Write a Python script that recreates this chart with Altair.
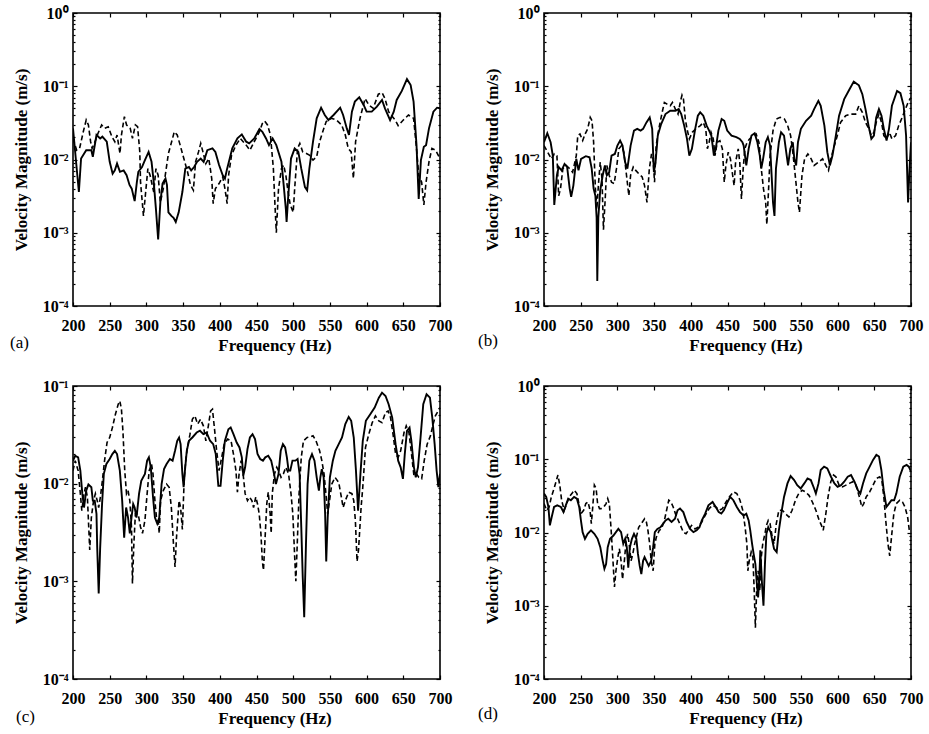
import altair as alt
import pandas as pd

FONT = "Liberation Serif"

# ---------------- data ----------------
X_TICKS = [200, 250, 300, 350, 400, 450, 500, 550, 600, 650, 700]
Y_MAJOR_4 = [1e-4, 1e-3, 1e-2, 1e-1, 1.0]
Y_MAJOR_3 = [1e-4, 1e-3, 1e-2, 1e-1]
Y_MINOR_4 = [k * d for d in [1e-4, 1e-3, 1e-2, 1e-1] for k in range(2, 10)]
Y_MINOR_3 = [k * d for d in [1e-4, 1e-3, 1e-2] for k in range(2, 10)]

# panel (a)
A_SOL_F = [200, 208, 211, 218, 225, 227, 232, 237, 240, 246, 250, 254, 257, 260, 264, 269, 273, 277, 280, 284, 287, 289,
           294, 298, 303, 307, 310, 313, 316, 319, 322, 326, 328, 330, 334, 337, 340, 344, 349, 353, 358, 361, 365, 369,
           374, 378, 383, 390, 394, 399, 404, 407, 410, 417, 424, 430, 436, 440, 447, 454, 458, 463, 467, 472, 477, 484,
           487, 490, 491, 493, 497, 502, 507, 511, 516, 519, 522, 527, 532, 538, 543, 548, 555, 564, 568, 573, 576, 580,
           584, 590, 596, 600, 607, 614, 621, 625, 632, 637, 641, 648, 655, 660, 664, 668, 671, 674, 678, 681, 685, 691,
           696, 700]
A_SOL_V = [0.0266, 0.0036, 0.0103, 0.0134, 0.0134, 0.0109, 0.0216, 0.0194, 0.0205, 0.0175, 0.0093, 0.0064, 0.0071,
           0.0088, 0.0068, 0.0071, 0.0061, 0.0045, 0.0040, 0.0027, 0.0049, 0.0068, 0.0079, 0.0098, 0.0127, 0.0093,
           0.0049, 0.0021, 0.00081, 0.0026, 0.0047, 0.0055, 0.0045, 0.0019, 0.0017, 0.0016, 0.0014, 0.0019, 0.0036,
           0.0075, 0.0079, 0.0071, 0.0079, 0.0093, 0.0103, 0.0093, 0.0134, 0.0142, 0.0127, 0.0084, 0.0061, 0.0055,
           0.0075, 0.0142, 0.0194, 0.022, 0.0175, 0.0166, 0.0194, 0.026, 0.0239, 0.0194, 0.0157, 0.0194, 0.0157,
           0.0093, 0.0045, 0.0021, 0.0014, 0.0029, 0.0103, 0.0142, 0.0127, 0.0075, 0.0042, 0.0038, 0.0075, 0.0175,
           0.0365, 0.051, 0.0405, 0.0346, 0.0405, 0.051, 0.0405, 0.0266, 0.0216, 0.045, 0.0617, 0.0707, 0.0555, 0.045,
           0.045, 0.0526, 0.065, 0.05, 0.0346, 0.045, 0.065, 0.0863, 0.125, 0.104, 0.0617, 0.0157, 0.0029, 0.0098,
           0.0149, 0.0157, 0.0266, 0.045, 0.051, 0.05]
A_DSH_F = [200, 202, 205, 209, 214, 218, 221, 224, 226, 230, 234, 239, 243, 248, 253, 257, 260, 264, 266, 270, 273, 278,
           281, 285, 288, 291, 292, 296, 299, 302, 305, 310, 313, 316, 319, 323, 327, 330, 335, 338, 342, 346, 351, 356,
           360, 364, 367, 371, 374, 377, 381, 385, 389, 391, 394, 399, 404, 407, 410, 412, 416, 422, 428, 436, 441, 447,
           454, 458, 461, 465, 469, 473, 475, 477, 480, 484, 487, 490, 493, 496, 500, 502, 506, 509, 513, 518, 522, 527,
           532, 536, 541, 545, 552, 559, 566, 571, 575, 579, 582, 585, 591, 598, 603, 609, 616, 621, 625, 630, 635, 639,
           643, 650, 657, 664, 668, 671, 675, 678, 681, 685, 689, 694, 700]
A_DSH_V = [0.0194, 0.0166, 0.0134, 0.0142, 0.0239, 0.0346, 0.0296, 0.0175, 0.0142, 0.0175, 0.0227, 0.0296, 0.0266,
           0.028, 0.0205, 0.0175, 0.0216, 0.0121, 0.0216, 0.0385, 0.0296, 0.0266, 0.0194, 0.0296, 0.028, 0.0127,
           0.0049, 0.0017, 0.0036, 0.0075, 0.0061, 0.0036, 0.0075, 0.0061, 0.0026, 0.004, 0.0075, 0.0121, 0.0184,
           0.0239, 0.0216, 0.0157, 0.0103, 0.0068, 0.0045, 0.0038, 0.0093, 0.0127, 0.0166, 0.0127, 0.0088, 0.0103,
           0.0055, 0.0025, 0.004, 0.0047, 0.0058, 0.004, 0.0025, 0.0061, 0.0115, 0.0157, 0.0194, 0.0157, 0.0134,
           0.0175, 0.0239, 0.031, 0.0335, 0.0296, 0.0216, 0.0075, 0.0026, 0.001, 0.004, 0.0075, 0.0084, 0.0061,
           0.0036, 0.0024, 0.0019, 0.004, 0.0142, 0.0166, 0.0127, 0.0121, 0.0115, 0.0098, 0.0109, 0.0175, 0.0253,
           0.033, 0.0365, 0.0346, 0.0296, 0.0216, 0.0142, 0.0127, 0.0055, 0.0175, 0.0365, 0.068, 0.0555, 0.05, 0.078,
           0.082, 0.068, 0.045, 0.0385, 0.0346, 0.029, 0.0346, 0.0405, 0.0365, 0.0142, 0.0061, 0.0049, 0.0024,
           0.0049, 0.0093, 0.0142, 0.0134, 0.0103]

# panel (b)
B_SOL_F = [200, 204.5, 209, 212, 214, 217.6, 220, 224, 228, 231.5, 235, 237, 240, 244, 247, 250.5, 257, 262, 265, 267.6,
           270, 271.7, 272.6, 274, 276.6, 280, 283, 285.6, 288.8, 292, 296.5, 300, 303.7, 307, 310.5, 313.6, 318, 322.6,
           327, 331.6, 335, 339.6, 344, 347.4, 349.7, 352, 355, 359.6, 365.5, 372, 379, 383.5, 387, 391, 394.8, 398,
           401.5, 406, 409.6, 412.8, 417, 421.6, 425, 428, 431.5, 434, 437.6, 442, 445.6, 449.6, 455.5, 462, 466.7,
           470.3, 472, 475.6, 478.8, 482.7, 487, 490.7, 494, 496, 498.5, 502, 505, 508, 512, 514, 516, 520, 523, 527,
           530, 532.5, 535.6, 539, 541, 543.5, 546, 550, 557, 564, 568, 573.8, 577, 582, 586, 589.5, 593, 597.6, 602,
           609, 615.7, 622, 629, 633.7, 638, 642.6, 646, 649.5, 652.6, 656.3, 659.8, 663, 666.7, 670, 674, 681, 685.6,
           690, 693.3, 696, 698, 700]
B_SOL_V = [0.0172, 0.0228, 0.0172, 0.0113, 0.0024, 0.0061, 0.0079, 0.0071, 0.0087, 0.0079, 0.004, 0.0031, 0.0044,
           0.0102, 0.0071, 0.0102, 0.0111, 0.0107, 0.0075, 0.004, 0.0032, 0.0016, 0.00022, 0.0016, 0.0038, 0.0061,
           0.0083, 0.0061, 0.0067, 0.0113, 0.0119, 0.0155, 0.0181, 0.0155, 0.0092, 0.0075, 0.0155, 0.0248, 0.0262,
           0.0248, 0.0262, 0.0321, 0.0376, 0.0262, 0.0067, 0.0092, 0.0212, 0.0305, 0.0417, 0.0462, 0.0462, 0.0487,
           0.0417, 0.029, 0.0191, 0.0113, 0.014, 0.0262, 0.0396, 0.044, 0.0396, 0.029, 0.0248, 0.0212, 0.0113, 0.014,
           0.0248, 0.0357, 0.0338, 0.0248, 0.0212, 0.0202, 0.0191, 0.0172, 0.0155, 0.0083, 0.014, 0.0212, 0.0228,
           0.0172, 0.0113, 0.0075, 0.0102, 0.0172, 0.0202, 0.0155, 0.0026, 0.0017, 0.0075, 0.0172, 0.0235, 0.0212,
           0.0126, 0.0083, 0.014, 0.0172, 0.0102, 0.0083, 0.0172, 0.0262, 0.0338, 0.0396, 0.0487, 0.0632, 0.0541,
           0.029, 0.0126, 0.0083, 0.0113, 0.0212, 0.0396, 0.0667, 0.089, 0.1157, 0.103, 0.078, 0.0487, 0.0275, 0.0191,
           0.0212, 0.0376, 0.0487, 0.0396, 0.0262, 0.0181, 0.0262, 0.0541, 0.0864, 0.0804, 0.0541, 0.0212, 0.0026,
           0.0075, 0.0172]
B_DSH_F = [200, 205, 210, 214, 217.6, 220, 222.5, 225.7, 230, 235, 239, 244, 246, 249, 252.7, 256, 259.5, 263, 265.4,
           267.6, 270, 272, 274.4, 276.6, 279, 281, 283.4, 285.6, 288.8, 292, 295.6, 298.7, 302, 305.6, 308.8, 312.4,
           315.6, 318, 321.6, 325, 329, 333.7, 337, 340.3, 343.5, 346.5, 348.6, 350.6, 352.8, 356.4, 361, 364, 367.7,
           372, 375, 379, 382.6, 386, 388, 390, 392.5, 394.8, 398, 402, 407, 413, 417, 420.4, 422.6, 425, 427.6, 430.6,
           433, 436, 439.6, 443, 445.6, 447.8, 451, 454, 457, 459, 461, 464.6, 466.7, 469, 471.4, 473.6, 476.7, 480,
           485, 489, 492.8, 496, 499, 502, 503.6, 506, 508, 512, 516.5, 521.8, 527.6, 532, 536, 539, 542.7, 546, 548,
           551.5, 555, 559.5, 564, 568, 574, 579.6, 584, 587.6, 590.7, 595, 599.6, 604, 611, 617.8, 624.6, 629, 633.7,
           638, 642.7, 646, 649.5, 652.6, 656.3, 659.8, 663, 666.7, 670.6, 674, 679, 683.3, 688, 692.3, 697, 700]
B_DSH_V = [0.0155, 0.0126, 0.0102, 0.0119, 0.0113, 0.0032, 0.004, 0.0075, 0.0083, 0.0075, 0.0067, 0.0113, 0.0212,
           0.0223, 0.0181, 0.0223, 0.0262, 0.0376, 0.0338, 0.0172, 0.004, 0.0021, 0.0049, 0.0092, 0.0055, 0.0011,
           0.0029, 0.0083, 0.0061, 0.0049, 0.0047, 0.0075, 0.014, 0.0155, 0.0126, 0.0061, 0.0032, 0.0061, 0.0079,
           0.0071, 0.0064, 0.0058, 0.0044, 0.0026, 0.0075, 0.0119, 0.0102, 0.0049, 0.0155, 0.0262, 0.044, 0.06, 0.057,
           0.0541, 0.06, 0.0487, 0.0417, 0.0632, 0.0755, 0.0667, 0.0357, 0.0262, 0.0191, 0.0235, 0.0262, 0.029,
           0.0321, 0.0262, 0.014, 0.0172, 0.0235, 0.0191, 0.0113, 0.0172, 0.0181, 0.014, 0.0049, 0.0083, 0.0126,
           0.0102, 0.0061, 0.0044, 0.0092, 0.014, 0.0092, 0.0029, 0.0075, 0.014, 0.0172, 0.0191, 0.0212, 0.0223,
           0.0172, 0.0075, 0.004, 0.0026, 0.0013, 0.004, 0.0113, 0.0248, 0.0357, 0.0376, 0.0357, 0.029, 0.0212, 0.0126,
           0.0055, 0.0026, 0.0019, 0.0061, 0.0102, 0.0119, 0.0102, 0.0083, 0.0092, 0.0102, 0.0083, 0.0071, 0.0102,
           0.0147, 0.0212, 0.0321, 0.0396, 0.0417, 0.0417, 0.0541, 0.044, 0.0321, 0.0262, 0.0212, 0.0235, 0.0321,
           0.0417, 0.0321, 0.0212, 0.0191, 0.0235, 0.0191, 0.0212, 0.029, 0.0376, 0.0487, 0.0632, 0.07]

# panel (c)
C_SOL_F = [200, 203, 207, 210, 212.7, 215, 218, 221, 225, 227, 229.6, 232, 233, 235, 237, 239.6, 242, 245.5, 250, 253.6,
           257, 260, 263.8, 267, 269.7, 272.4, 275, 277.4, 279.7, 282, 284, 286.5, 290, 293, 298, 301, 303.4, 306, 309,
           311.6, 314.8, 317.5, 320.7, 324, 327.5, 332, 335.7, 339, 342, 344.5, 346.6, 349, 350.7, 352.5, 355, 358,
           362.6, 368.5, 373, 377.6, 382, 386.7, 391, 394.5, 398, 401, 404, 407, 411.7, 414.8, 418.6, 423, 426.8, 430,
           432, 434.5, 437.7, 441, 444.6, 448, 451.4, 455, 458.8, 462, 466, 470, 473, 476.5, 480, 483, 486, 489, 491.4,
           493.7, 496, 499, 503, 506, 508.7, 511, 513, 515, 517.4, 519.6, 522, 525.6, 529, 532, 535, 537, 539, 541.5,
           543.5, 545, 547, 550, 554, 557.5, 562, 566.5, 571, 575.6, 579, 582.5, 585.5, 588.4, 591.6, 594.8, 599, 605,
           611, 616.7, 621, 625.8, 630, 634.9, 639.5, 643, 646.4, 649.5, 652, 655, 658.5, 661, 664.5, 667, 670, 673.5,
           677.2, 681.7, 686.3, 689.5, 692.7, 695.4, 697.8, 700]
C_SOL_V = [0.0172, 0.0193, 0.0186, 0.0136, 0.0079, 0.0057, 0.0085, 0.0098, 0.0092, 0.0067, 0.0067, 0.0049, 0.0022,
           0.00075, 0.0022, 0.0062, 0.0126, 0.0159, 0.0179, 0.0201, 0.0217, 0.0201, 0.0136, 0.0067, 0.0028, 0.0057,
           0.0045, 0.0031, 0.0045, 0.0062, 0.0057, 0.0045, 0.0079, 0.0107, 0.0126, 0.0172, 0.0186, 0.0147, 0.0073,
           0.0045, 0.0039, 0.0045, 0.0099, 0.0141, 0.0159, 0.0179, 0.0172, 0.0217, 0.0275, 0.0297, 0.0254, 0.0126,
           0.0092, 0.0136, 0.0217, 0.0275, 0.0297, 0.0334, 0.0348, 0.0321, 0.0334, 0.0275, 0.0254, 0.0201, 0.0095,
           0.0095, 0.0172, 0.0275, 0.0361, 0.0376, 0.0321, 0.0264, 0.0235, 0.0186, 0.0121, 0.0147, 0.0226, 0.0297,
           0.0321, 0.0286, 0.0201, 0.0179, 0.0172, 0.0186, 0.0193, 0.0172, 0.0136, 0.0099, 0.0126, 0.0217, 0.0254,
           0.0235, 0.0186, 0.0136, 0.0136, 0.0172, 0.0172, 0.0179, 0.0126, 0.0036, 0.0011, 0.00043, 0.0024, 0.0099,
           0.0172, 0.0201, 0.0172, 0.0116, 0.0085, 0.0116, 0.0141, 0.0116, 0.0049, 0.0016, 0.0045, 0.0116, 0.0172,
           0.0217, 0.0254, 0.0297, 0.0407, 0.0483, 0.044, 0.0297, 0.0136, 0.0053, 0.0126, 0.0275, 0.044, 0.0514,
           0.0601, 0.076, 0.0855, 0.079, 0.065, 0.0475, 0.0254, 0.0172, 0.0147, 0.0112, 0.0201, 0.0348, 0.0376,
           0.0275, 0.0147, 0.0116, 0.0147, 0.0297, 0.065, 0.0822, 0.076, 0.0475, 0.0254, 0.0136, 0.0092, 0.0126]
C_DSH_F = [200, 203, 207, 210, 212, 215, 217, 219.6, 222.8, 225, 228, 230.5, 233, 235, 237.3, 240, 243, 246.4, 250,
           253.7, 257.8, 261.6, 263.8, 266, 268, 270.5, 272.9, 275, 277.4, 279.7, 281, 282.9, 285, 288.8, 292, 294.7,
           298, 301, 303.8, 307, 309, 311.6, 313.7, 316, 317.5, 319.3, 323, 327.5, 331, 334, 336.6, 339, 341, 344.5,
           346.6, 349, 351.6, 354, 356, 359.4, 362.6, 366, 369.8, 373.8, 377.6, 381, 384.4, 387.5, 390, 392.6, 395.7,
           399, 402.6, 406, 410.7, 415.3, 418.6, 422, 424, 426.3, 429, 432, 434.5, 437.7, 440.5, 443.7, 446, 449, 451.4,
           453.7, 456, 458, 459.5, 462, 464, 466, 468.6, 470, 471.5, 474.5, 477.6, 480, 483.4, 486.6, 490, 493.7, 497,
           499.5, 502, 503.6, 505.5, 508, 511, 514, 519, 523, 527, 531, 536, 539, 542, 545, 547, 549.5, 552.6, 557, 562,
           565.6, 568, 571, 575.6, 580, 582.5, 584.7, 587, 589, 592.5, 594.8, 598.5, 603, 607.7, 612, 616.7, 621,
           625.8, 629.3, 632.6, 636, 639.5, 643, 646.4, 651, 654, 657.7, 661.2, 664.5, 668, 671.2, 675, 678.5, 682.5,
           687, 690.7, 693.7, 697.5, 700]
C_DSH_V = [0.0136, 0.0172, 0.0136, 0.0079, 0.0053, 0.0079, 0.0092, 0.0073, 0.0021, 0.0045, 0.0067, 0.0079, 0.0067,
           0.0057, 0.0073, 0.0107, 0.0172, 0.0264, 0.0297, 0.0376, 0.0514, 0.065, 0.0703, 0.0578, 0.0348, 0.0136,
           0.0079, 0.0085, 0.0067, 0.0036, 0.00095, 0.0024, 0.0049, 0.0049, 0.0036, 0.0031, 0.0042, 0.0079, 0.0136,
           0.0159, 0.0126, 0.0067, 0.0045, 0.0042, 0.0031, 0.0067, 0.0085, 0.0099, 0.0092, 0.0057, 0.0026, 0.0014,
           0.0028, 0.0067, 0.0057, 0.0034, 0.0116, 0.0186, 0.0235, 0.0321, 0.0457, 0.0494, 0.0407, 0.0457, 0.0391,
           0.0275, 0.0391, 0.0556, 0.0578, 0.0376, 0.0217, 0.0136, 0.0186, 0.0254, 0.0286, 0.0275, 0.0201, 0.0136,
           0.0082, 0.0126, 0.0172, 0.0121, 0.0079, 0.0067, 0.0073, 0.0067, 0.0057, 0.0073, 0.0062, 0.0049, 0.0031,
           0.0016, 0.0013, 0.0031, 0.0062, 0.0082, 0.0049, 0.0031, 0.0079, 0.0126, 0.0147, 0.0136, 0.0116, 0.0126,
           0.0147, 0.0126, 0.0079, 0.0049, 0.0018, 0.001, 0.0024, 0.0079, 0.0186, 0.0275, 0.0297, 0.0302, 0.0309,
           0.0275, 0.0217, 0.0172, 0.0126, 0.0073, 0.0049, 0.0067, 0.0099, 0.0116, 0.0103, 0.0073, 0.0057, 0.0067,
           0.0082, 0.0079, 0.0067, 0.0042, 0.0016, 0.0021, 0.0057, 0.0092, 0.0235, 0.0321, 0.0422, 0.0494, 0.044,
           0.0422, 0.0535, 0.0556, 0.0475, 0.0321, 0.0201, 0.0186, 0.0217, 0.0334, 0.0391, 0.0334, 0.0201, 0.0121,
           0.0126, 0.0116, 0.0112, 0.0172, 0.0254, 0.0309, 0.0407, 0.0494, 0.0556, 0.0601]

# panel (d)
D_SOL_F = [200, 203, 206, 208, 210.5, 213.7, 218, 223, 226.5, 229.7, 233, 236.6, 241, 244.8, 248, 250.3, 252.6, 255.8,
           259.5, 264, 268.6, 273, 276.7, 280, 282.3, 284.6, 286.8, 290, 294.6, 298, 301.3, 305, 308, 310.6, 312.8,
           314.8, 317, 319.8, 322.6, 325.8, 328, 330.4, 332.6, 335, 337, 340.4, 342.6, 346, 348.7, 351, 354.5, 358.6,
           362.4, 365.6, 369.3, 373.8, 378.4, 382, 385.3, 389.8, 394.4, 399, 403.6, 408, 411.8, 415, 419.6, 424, 429.7,
           434, 438, 441.6, 445, 449, 453.7, 458, 462.7, 467, 472, 475.6, 478.8, 481, 483.5, 485.6, 488, 490, 491.7,
           493.4, 494.7, 497, 499, 501, 503, 505.5, 508.8, 511, 513.4, 517, 520, 524, 527, 531.7, 536, 540.8, 545,
           549.7, 554.6, 559, 563.5, 568, 570.4, 574, 577, 581.6, 586, 591, 595.7, 600, 604.7, 609, 613.8, 618.3, 623,
           627.7, 631, 634.6, 639, 643.7, 648.3, 652.8, 656.4, 659.6, 662.8, 666.5, 670, 673.4, 677, 680, 684.6, 689.5,
           694, 697, 700]
D_SOL_V = [0.034, 0.0306, 0.0223, 0.0125, 0.0163, 0.0223, 0.0235, 0.0223, 0.019, 0.0235, 0.029, 0.0276, 0.0306, 0.029,
           0.0223, 0.0146, 0.0101, 0.0082, 0.0096, 0.0107, 0.0096, 0.0082, 0.0063, 0.0041, 0.0032, 0.0037, 0.0063,
           0.0082, 0.0091, 0.0101, 0.0112, 0.0101, 0.007, 0.0082, 0.0063, 0.0033, 0.0063, 0.0082, 0.0096, 0.0082,
           0.0051, 0.0035, 0.0027, 0.0041, 0.0046, 0.0039, 0.0035, 0.0041, 0.0063, 0.0101, 0.0112, 0.0118, 0.0132,
           0.0146, 0.0154, 0.0139, 0.0154, 0.0201, 0.0212, 0.019, 0.0139, 0.0112, 0.0101, 0.0107, 0.0118, 0.0146,
           0.0181, 0.0235, 0.0261, 0.0223, 0.019, 0.0181, 0.0201, 0.0248, 0.0306, 0.0276, 0.0223, 0.019, 0.0171,
           0.0181, 0.0146, 0.0107, 0.007, 0.0051, 0.0037, 0.002, 0.0013, 0.0024, 0.0057, 0.002, 0.001, 0.0037, 0.0096,
           0.0118, 0.0101, 0.0078, 0.006, 0.0054, 0.0107, 0.0201, 0.0306, 0.0468, 0.059, 0.052, 0.0443, 0.0399,
           0.0468, 0.0548, 0.052, 0.0399, 0.034, 0.0468, 0.0713, 0.0792, 0.0752, 0.0577, 0.0468, 0.042, 0.0443,
           0.0493, 0.0577, 0.0608, 0.0493, 0.0378, 0.034, 0.0468, 0.0641, 0.0792, 0.098, 0.1148, 0.1088, 0.0713,
           0.0378, 0.0223, 0.0248, 0.0276, 0.0276, 0.034, 0.0577, 0.0792, 0.0835, 0.0792, 0.0676]
D_DSH_F = [200, 203.7, 207, 210, 213.7, 217, 219, 221.5, 224, 227.5, 231, 234.3, 238, 241, 244.8, 248, 250.3, 254, 257,
           260, 262.7, 264.5, 266.4, 268.6, 271, 273, 275.6, 277.8, 281.5, 284.6, 286.8, 289, 291.5, 293.7, 296, 298,
           300.6, 302.7, 305, 307, 309.5, 311.7, 314, 316, 318.6, 321, 323.5, 325.8, 329, 332.6, 337, 339.5, 341.6,
           344, 346, 348.7, 351, 353, 357, 360, 364, 367, 370, 373, 376, 379, 383, 386, 389.8, 393.5, 396.7, 401,
           405.8, 410, 415, 419.6, 425, 429.7, 434, 438.7, 443, 448, 452.5, 458, 462.7, 467, 470.8, 474, 476.4, 477.7,
           479.6, 482.3, 484.6, 486.4, 488, 489.7, 491.7, 494, 496, 498, 501, 503, 505.5, 508, 511, 513.4, 516.5, 520,
           524.6, 529, 533.6, 538, 542.6, 547, 551.7, 556, 561, 565.6, 570.4, 575, 578, 580.4, 584, 587, 590.7, 594.5,
           597.6, 602, 606.7, 611.4, 616, 620.6, 625, 629.7, 633, 635.6, 639, 643.7, 648.3, 652.8, 657.4, 660.5, 663,
           665.6, 668.6, 671, 673.4, 676.6, 680, 684.6, 688.4, 691.8, 695.4, 697.7, 700]
D_DSH_V = [0.0248, 0.0201, 0.0223, 0.0306, 0.0399, 0.052, 0.0608, 0.0443, 0.0276, 0.0201, 0.0248, 0.0306, 0.034,
           0.0378, 0.034, 0.0235, 0.0181, 0.0201, 0.0248, 0.0261, 0.0201, 0.0132, 0.0223, 0.0443, 0.0399, 0.0248,
           0.0212, 0.0212, 0.0223, 0.0248, 0.029, 0.0248, 0.0107, 0.0046, 0.0018, 0.003, 0.0046, 0.006, 0.0041,
           0.0023, 0.0041, 0.0074, 0.0096, 0.007, 0.0041, 0.0051, 0.007, 0.0086, 0.0118, 0.0132, 0.0154, 0.0139,
           0.0107, 0.007, 0.0041, 0.003, 0.007, 0.0086, 0.0107, 0.0112, 0.0146, 0.0201, 0.0276, 0.0261, 0.0223,
           0.0181, 0.0146, 0.0125, 0.0101, 0.0096, 0.0107, 0.0125, 0.0112, 0.0118, 0.0139, 0.0171, 0.0212, 0.0235,
           0.0223, 0.0201, 0.0212, 0.0261, 0.0306, 0.0359, 0.034, 0.0276, 0.0201, 0.0118, 0.007, 0.003, 0.0041,
           0.0054, 0.0046, 0.0016, 0.0005, 0.0016, 0.003, 0.0016, 0.0046, 0.007, 0.0096, 0.0125, 0.0146, 0.0132,
           0.0086, 0.007, 0.0132, 0.0201, 0.0201, 0.0181, 0.0163, 0.0201, 0.0276, 0.034, 0.0378, 0.0359, 0.0322,
           0.0261, 0.0201, 0.0146, 0.0125, 0.0107, 0.0181, 0.0306, 0.0493, 0.0608, 0.0577, 0.0443, 0.042, 0.0443,
           0.0468, 0.0493, 0.0443, 0.0306, 0.0223, 0.0248, 0.0306, 0.0359, 0.0443, 0.0548, 0.0577, 0.0493, 0.0306,
           0.0146, 0.007, 0.0048, 0.0086, 0.0181, 0.0248, 0.0276, 0.0261, 0.0223, 0.0163, 0.0107, 0.0107]

LABELS = ["(a)", "(b)", "(c)", "(d)"]

# ---------------- styling ----------------
W, H = 367, 293
EXP_LABELS = ("datum.value > 0.5 ? '10\u2070' : datum.value > 0.05 ? '10\u207b\u00b9' : "
              "datum.value > 0.005 ? '10\u207b\u00b2' : datum.value > 0.0005 ? '10\u207b\u00b3' : '10\u207b\u2074'")


def panel(sf, sv, df, dv, label, ymax, ymajor, yminor, lab_dx, lab_dy):
    sol = pd.DataFrame({"f": sf, "v": sv})
    das = pd.DataFrame({"f": df, "v": dv})
    lab = pd.DataFrame({"label": [label]})
    xs = alt.Scale(domain=[200, 700], nice=False, zero=False)
    ys = alt.Scale(type="log", domain=[1e-4, ymax], nice=False)

    common_tick = dict(domain=False, grid=False, tickColor="black", tickWidth=1.2)

    x_bottom = alt.Axis(orient="bottom", values=X_TICKS, offset=-4, tickSize=4,
                        labelFont=FONT, labelFontSize=16, labelFontWeight="bold", labelColor="black",
                        labelPadding=11, labelFlush=False, labelOverlap=False,
                        title="Frequency (Hz)", titleFont=FONT, titleFontSize=17, titleFontWeight="bold",
                        titleColor="black", titleX=W / 2 + 18, titleY=48, titleBaseline="alphabetic",
                        **common_tick)
    y_left = alt.Axis(orient="left", values=ymajor, offset=-4, tickSize=4,
                      labelExpr=EXP_LABELS, labelFont=FONT, labelFontSize=16, labelFontWeight="bold",
                      labelColor="black", labelPadding=5, labelFlush=False, labelOverlap=False,
                      title="Velocity Magnitude (m/s)", titleFont=FONT, titleFontSize=17,
                      titleFontWeight="bold", titleColor="black", titlePadding=12, **common_tick)
    x_top = alt.Axis(orient="top", values=X_TICKS, offset=-4, tickSize=4, labels=False, title=None,
                     **common_tick)
    y_right = alt.Axis(orient="right", values=ymajor, offset=-4, tickSize=4, labels=False, title=None,
                       **common_tick)
    y_left_minor = alt.Axis(orient="left", values=yminor, offset=-2, tickSize=2, labels=False, title=None,
                            **common_tick)
    y_right_minor = alt.Axis(orient="right", values=yminor, offset=-2, tickSize=2, labels=False, title=None,
                             **common_tick)

    l_solid = alt.Chart(sol).mark_line(color="black", strokeWidth=1.9, clip=True).encode(
        x=alt.X("f:Q", scale=xs, axis=x_bottom),
        y=alt.Y("v:Q", scale=ys, axis=y_left),
    )
    l_dash = alt.Chart(das).mark_line(color="black", strokeWidth=1.6, strokeDash=[5, 3], clip=True).encode(
        x=alt.X("f:Q", scale=xs, axis=x_top),
        y=alt.Y("v:Q", scale=ys, axis=y_right),
    )
    l_minor_l = alt.Chart(sol).mark_line(opacity=0).encode(
        x=alt.X("f:Q", scale=xs, axis=None),
        y=alt.Y("v:Q", scale=ys, axis=y_left_minor),
    )
    l_minor_r = alt.Chart(das).mark_line(opacity=0).encode(
        x=alt.X("f:Q", scale=xs, axis=None),
        y=alt.Y("v:Q", scale=ys, axis=y_right_minor),
    )
    l_label = alt.Chart(lab).mark_text(font=FONT, fontSize=17, color="black", align="left",
                                       baseline="alphabetic").encode(
        x=alt.value(lab_dx), y=alt.value(H + lab_dy), text="label:N"
    )
    return alt.layer(l_solid, l_dash, l_minor_l, l_minor_r, l_label).resolve_axis(
        x="independent", y="independent"
    ).properties(width=W, height=H)


pa = panel(A_SOL_F, A_SOL_V, A_DSH_F, A_DSH_V, LABELS[0], 1.0, Y_MAJOR_4, Y_MINOR_4, -63, 42)
pb = panel(B_SOL_F, B_SOL_V, B_DSH_F, B_DSH_V, LABELS[1], 1.0, Y_MAJOR_4, Y_MINOR_4, -66, 40)
pc = panel(C_SOL_F, C_SOL_V, C_DSH_F, C_DSH_V, LABELS[2], 0.1, Y_MAJOR_3, Y_MINOR_3, -57, 43)
pd_ = panel(D_SOL_F, D_SOL_V, D_DSH_F, D_DSH_V, LABELS[3], 1.0, Y_MAJOR_4, Y_MINOR_4, -66, 40)

chart = alt.concat(pa, pb, pc, pd_, columns=2, spacing={"row": 80, "column": 104}, bounds="flush").properties(
    padding={"left": 9, "top": 4, "right": 5, "bottom": 5},
    background="white",
).configure_view(stroke="black", strokeWidth=1.6)

chart.save("out.html", embed_options={"renderer": "svg", "actions": False})
